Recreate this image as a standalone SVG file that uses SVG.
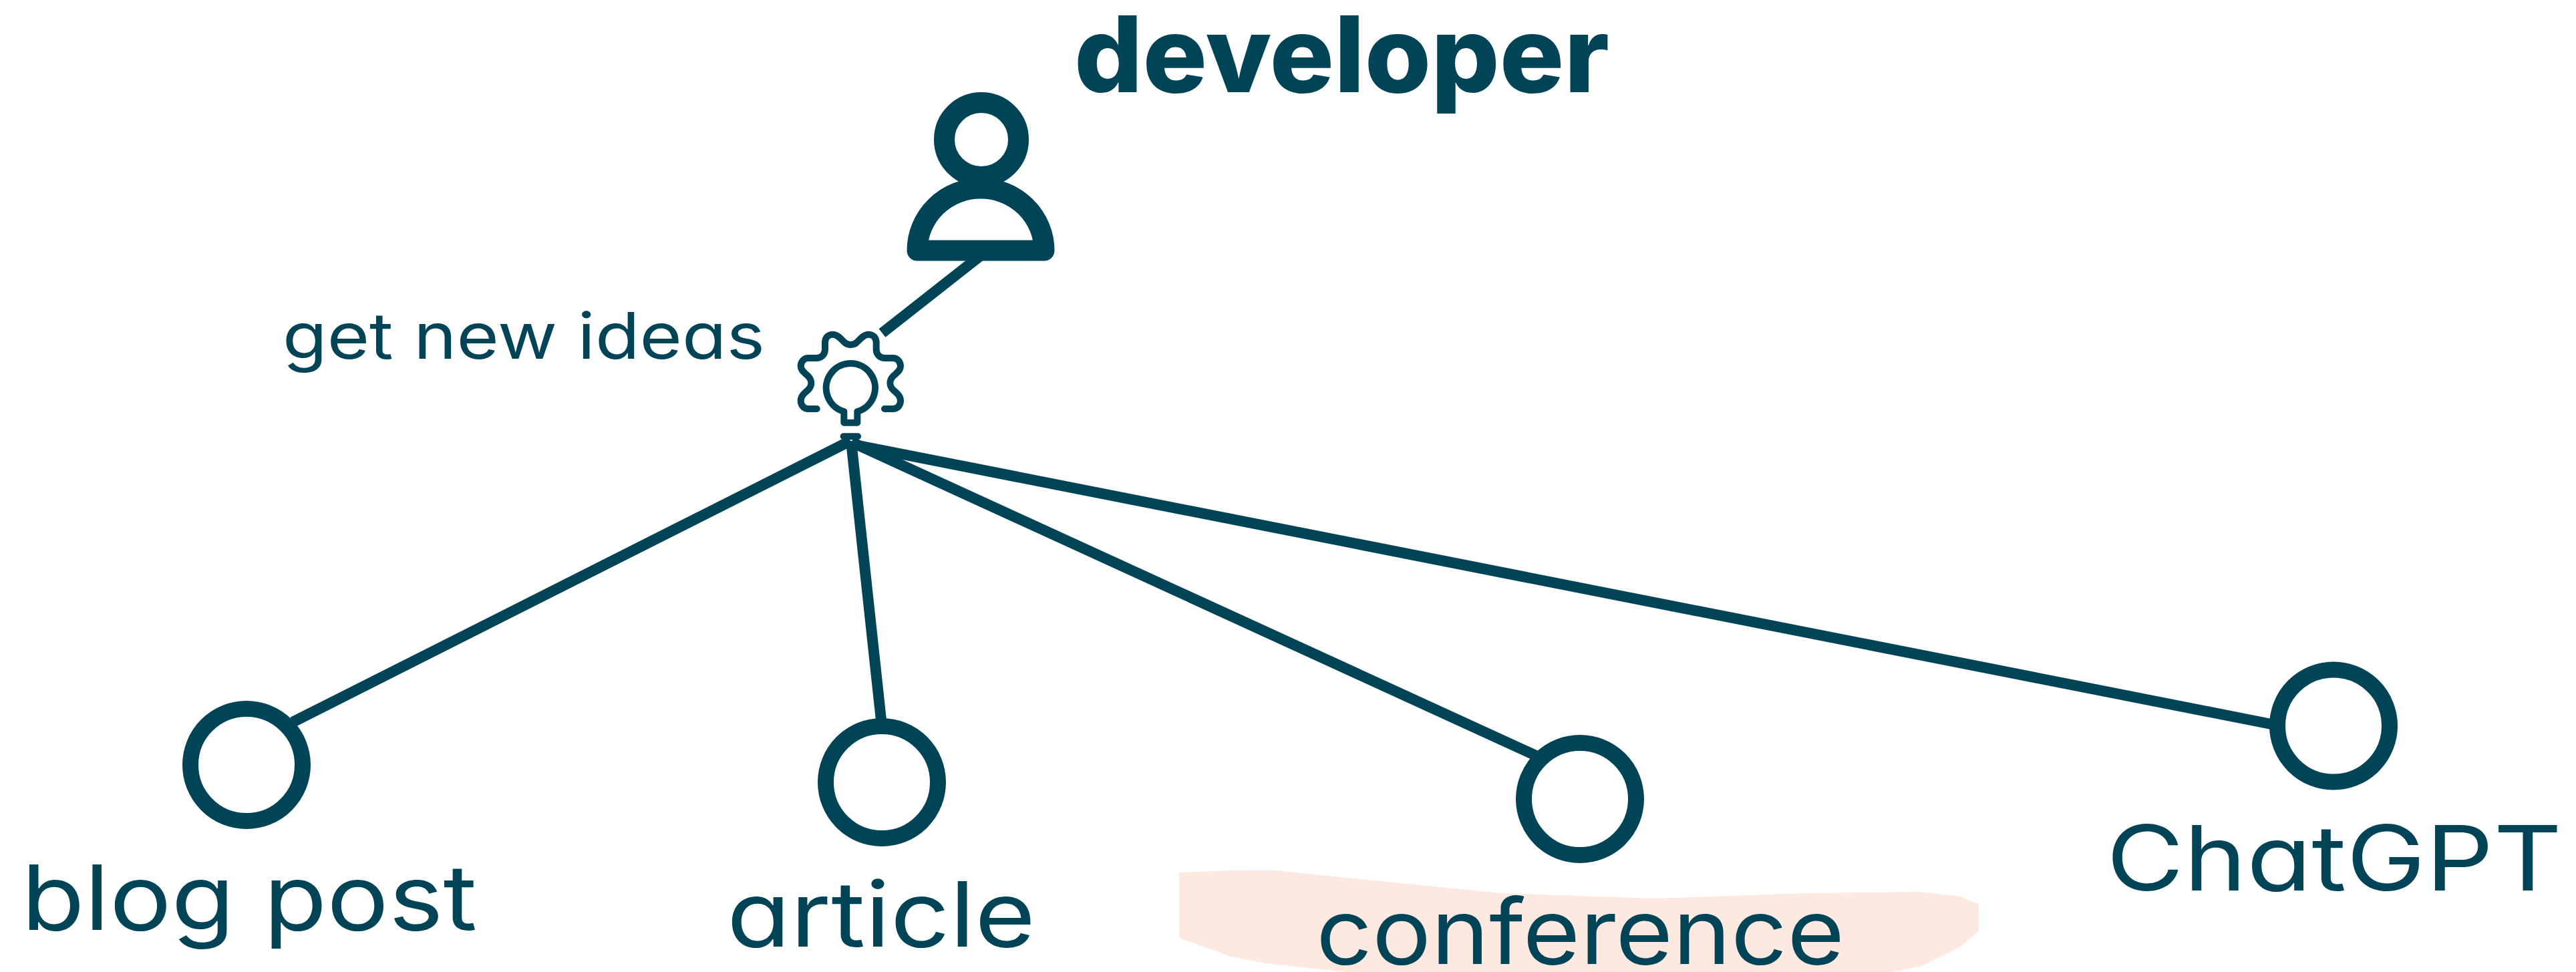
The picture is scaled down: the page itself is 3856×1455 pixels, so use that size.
<svg xmlns="http://www.w3.org/2000/svg" width="3856" height="1455" viewBox="0 0 3856 1455">
<style>
.t{font-family:"Inter","Liberation Sans",sans-serif;fill:#024457;font-feature-settings:"cv11" 1;font-weight:400}
.l{font-size:135px}
.c{fill:none;stroke:#024457;stroke-width:24}
.e{fill:none;stroke:#024457;stroke-width:16}
.g{fill:none;stroke:#024457;stroke-width:30;stroke-linecap:round;stroke-linejoin:round}
</style>
<rect width="3856" height="1455" fill="#ffffff"/>
<polygon id="highlight" fill="#fde9df" points="1765,1306 1848,1303 1911,1303 1957,1308 2247,1337 2475,1345 2703,1337 2873,1335 2935,1342 2962,1354 2962,1393 2935,1417 2876,1446 2832,1455 2015,1455 1895,1442 1843,1432 1765,1404"/>
<g id="connectors">
<line class="e" x1="1320.5" y1="498.5" x2="1470" y2="381"/>
<line class="e" x1="1273" y1="660" x2="438" y2="1081"/>
<line class="e" x1="1274" y1="660" x2="1319" y2="1078"/>
<line class="e" x1="1275" y1="662" x2="2299" y2="1131"/>
<line class="e" x1="1275" y1="665" x2="3405" y2="1085"/>
</g>
<g id="developer">
<circle cx="1469" cy="209" r="55.5" fill="none" stroke="#024457" stroke-width="31"/>
<path d="M1373,375 A95,93 0 0 1 1563,375 Z" fill="#fff" stroke="#024457" stroke-width="31" stroke-linejoin="round"/>
<text class="t" x="1608" y="138" font-size="158" style="font-weight:800" textLength="801" lengthAdjust="spacingAndGlyphs">developer</text>
</g>
<g id="get-new-ideas">
<g transform="translate(1150,460) scale(0.33333)">
<path class="g" d="M218,456 H180 C160,456 146,440 146,420 C146,395 165,385 180,370 C197,352 197,328 180,310 C165,295 146,285 146,265 C146,245 160,228 180,228 H215 C240,228 255,210 255,190 V160 C255,135 270,122 290,122 C310,122 325,140 340,155 C355,172 385,172 400,155 C415,140 430,122 450,122 C470,122 485,135 485,160 V190 C485,210 500,228 525,228 H560 C580,228 594,245 594,265 C594,285 575,295 560,310 C543,328 543,352 560,370 C575,385 594,395 594,420 C594,440 580,456 560,456 H522"/>
<path class="g" d="M340,468 V518 H400 V468 A110,110 0 1 0 340,468 Z"/>
<path class="g" d="M338,580 H402"/>
</g>
<text class="t" x="423" y="537" font-size="96" textLength="722" lengthAdjust="spacingAndGlyphs">get new ideas</text>
</g>
<g id="blog-post">
<circle class="c" cx="369" cy="1145" r="84"/>
<text class="t l" x="32" y="1392" textLength="682" lengthAdjust="spacingAndGlyphs">blog post</text>
</g>
<g id="article">
<circle class="c" cx="1320" cy="1171" r="84"/>
<text class="t l" x="1088" y="1417" textLength="462" lengthAdjust="spacingAndGlyphs">article</text>
</g>
<g id="conference">
<circle class="c" cx="2365" cy="1196" r="84"/>
<text class="t l" x="1970" y="1443" textLength="791" lengthAdjust="spacingAndGlyphs">conference</text>
</g>
<g id="chatgpt">
<circle class="c" cx="3493" cy="1086.5" r="84"/>
<text class="t l" x="3153" y="1333" font-size="142" textLength="682" lengthAdjust="spacingAndGlyphs">ChatGPT</text>
</g>
</svg>
